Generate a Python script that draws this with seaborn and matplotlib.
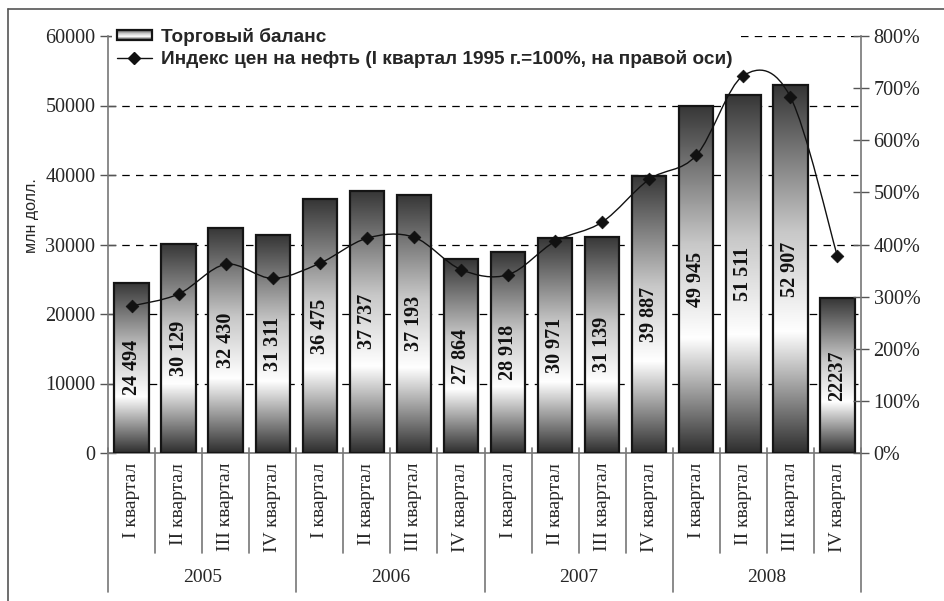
import numpy as np
import pandas as pd
import matplotlib
matplotlib.use('Agg')
import matplotlib.pyplot as plt
import seaborn as sns
from matplotlib.colors import LinearSegmentedColormap
from matplotlib.path import Path
from matplotlib.patches import PathPatch, Rectangle
from matplotlib.lines import Line2D
from matplotlib.legend_handler import HandlerBase
from matplotlib.image import BboxImage
from matplotlib.transforms import Bbox, TransformedBbox, blended_transform_factory

# data
years = ['2005', '2006', '2007', '2008']
quarters = ['I квартал', 'II квартал', 'III квартал', 'IV квартал']
trade_balance = [24494, 30129, 32430, 31311, 36475, 37737, 37193, 27864,
                 28918, 30971, 31139, 39887, 49945, 51511, 52907, 22237]
bar_labels = ['24 494', '30 129', '32 430', '31 311', '36 475', '37 737', '37 193', '27 864',
              '28 918', '30 971', '31 139', '39 887', '49 945', '51 511', '52 907', '22237']
oil_index = [282, 305, 362, 335, 364, 412, 414, 352,
             342, 406, 443, 525, 571, 724, 683, 377]

sns.set_theme(style='white')
plt.rcParams['font.family'] = ['Liberation Serif', 'DejaVu Serif']

df = pd.DataFrame({
    'period': [f'{y} {q}' for y in years for q in quarters],
    'balance': trade_balance,
    'oil': oil_index,
})
df['pos'] = np.arange(len(df))

W, H = 944, 601
fig = plt.figure(figsize=(W / 100, H / 100), dpi=100)
ax = fig.add_axes([108 / W, 1 - 453 / H, (861 - 108) / W, (453 - 36) / H])

grad_cmap = LinearSegmentedColormap.from_list(
    'bar', [(0, '#2e2e2e'), (0.33, '#ffffff'), (0.6, '#c8c8c8'), (1, '#363636')])
grad = np.linspace(0, 1, 256).reshape(-1, 1)

sns.barplot(data=df, x='period', y='balance', order=df['period'], color='white',
            width=0.73, edgecolor='#151515', linewidth=1.6, ax=ax, zorder=3)
for p in ax.patches:
    p.set_facecolor('none')
    x0, w, h = p.get_x(), p.get_width(), p.get_height()
    im = ax.imshow(grad, cmap=grad_cmap, extent=[x0, x0 + w, 0, h], aspect='auto',
                   origin='lower', interpolation='bilinear', zorder=2.5)
    im.set_clip_path(p)

for i, lab in enumerate(bar_labels):
    ax.text(i, trade_balance[i] / 2, lab, rotation=90, ha='center', va='center',
            fontsize=14.5, fontweight='bold', color='#111111', zorder=6)

ax.set_xlim(-0.5, 15.5)
ax.set_ylim(0, 60000)
ax.set_yticks(range(0, 60001, 10000))
ax.set_yticklabels([str(v) for v in range(0, 60001, 10000)])
ax.yaxis.grid(True, linestyle=(0, (6, 5)), color='black', linewidth=0.9)
ax.xaxis.grid(False)
ax.set_axisbelow(True)
ax.set_xlabel('')
ax.set_ylabel('млн долл.', family='Liberation Sans', fontsize=11.5, labelpad=0)
ax.yaxis.set_label_coords(-69 / 753, (453 - 216) / 417)

ax.set_xticks(range(16))
ax.set_xticklabels(quarters * 4, rotation=90, fontsize=14)
ax.tick_params(axis='x', length=0, pad=7)
ax.tick_params(axis='y', direction='inout', length=12, width=1, color='#555555',
               labelsize=14.5, pad=3)
for s in ['top', 'right']:
    ax.spines[s].set_visible(False)
for s in ['left', 'bottom']:
    ax.spines[s].set_color('#777777')
    ax.spines[s].set_linewidth(1.2)

# category separators and year labels
tr = blended_transform_factory(ax.transData, ax.transAxes)
ax_h = 453 - 36
for k in range(17):
    xb = k - 0.5
    low = -139 / ax_h if k % 4 == 0 else -100 / ax_h
    ax.plot([xb, xb], [5 / ax_h, low], transform=tr, color='#777777', lw=1.2, clip_on=False)
for j, y in enumerate(years):
    ax.text(4 * j + 1.5, -125 / ax_h, y, transform=tr, ha='center', va='center', fontsize=14)

# right axis: oil price index
ax2 = ax.twinx()
ax2.set_ylim(0, 800)
ax2.set_xlim(-0.5, 15.5)

# smoothed line (Excel-like) through the index points
pts = ax2.transData.transform(np.column_stack([df['pos'], df['oil']]))
n = len(pts)
verts, codes = [pts[0]], [Path.MOVETO]
for i in range(n - 1):
    p0, p1, p2, p3 = pts[max(i - 1, 0)], pts[i], pts[i + 1], pts[min(i + 2, n - 1)]
    verts += [p1 + (p2 - p0) / 6, p2 - (p3 - p1) / 6, p2]
    codes += [Path.CURVE4] * 3
verts = ax2.transData.inverted().transform(np.array(verts))
ax2.add_patch(PathPatch(Path(verts, codes), fill=False, ec='#111111', lw=1.0, zorder=4))
sns.scatterplot(data=df, x='pos', y='oil', marker='D', s=42, color='#111111',
                edgecolor='#111111', ax=ax2, zorder=5, legend=False)

ax2.set_xlim(-0.5, 15.5)
ax2.set_ylim(0, 800)
ax2.set_yticks(range(0, 801, 100))
ax2.set_yticklabels([f'{v}%' for v in range(0, 801, 100)])
ax2.tick_params(axis='y', direction='inout', length=12, width=1, color='#555555',
                labelsize=14.5, pad=3)
ax2.grid(False)
ax2.set_xlabel('')
ax2.set_ylabel('')
for s in ['top', 'left', 'bottom']:
    ax2.spines[s].set_visible(False)
ax2.spines['right'].set_color('#777777')
ax2.spines['right'].set_linewidth(1.2)


class GradientHandler(HandlerBase):
    def create_artists(self, legend, orig_handle, xdescent, ydescent, width, height, fontsize, trans):
        bb = TransformedBbox(Bbox.from_bounds(-xdescent, -ydescent, width, height), trans)
        img = BboxImage(bb, cmap=grad_cmap, interpolation='bilinear', origin='lower')
        img.set_data(grad)
        rect = Rectangle((-xdescent, -ydescent), width, height, fill=False,
                         ec='#151515', lw=1.6, transform=trans)
        return [img, rect]


bar_handle = Rectangle((0, 0), 1, 1)
line_handle = Line2D([], [], color='#111111', lw=1.0, marker='D', markersize=6.3)
leg = ax2.legend([bar_handle, line_handle],
                 ['Торговый баланс', 'Индекс цен на нефть (I квартал 1995 г.=100%, на правой оси)'],
                 handler_map={Rectangle: GradientHandler()},
                 loc='upper left', bbox_to_anchor=(112 / W, 1 - 23 / H),
                 bbox_transform=fig.transFigure, frameon=True, facecolor='white',
                 edgecolor='none', framealpha=1, fancybox=False,
                 prop={'family': 'Liberation Sans', 'weight': 'bold', 'size': 13.7},
                 handlelength=1.85, handleheight=0.5, handletextpad=0.45, labelspacing=0.2,
                 borderpad=0.25, borderaxespad=0)

# outer frame
fig.add_artist(Line2D([8 / W, 8 / W], [0, 1 - 9 / H], transform=fig.transFigure, color='#555555', lw=1.2))
fig.add_artist(Line2D([8 / W, 1], [1 - 9 / H, 1 - 9 / H], transform=fig.transFigure, color='#555555', lw=1.2))

fig.savefig('out.png', dpi=100)
